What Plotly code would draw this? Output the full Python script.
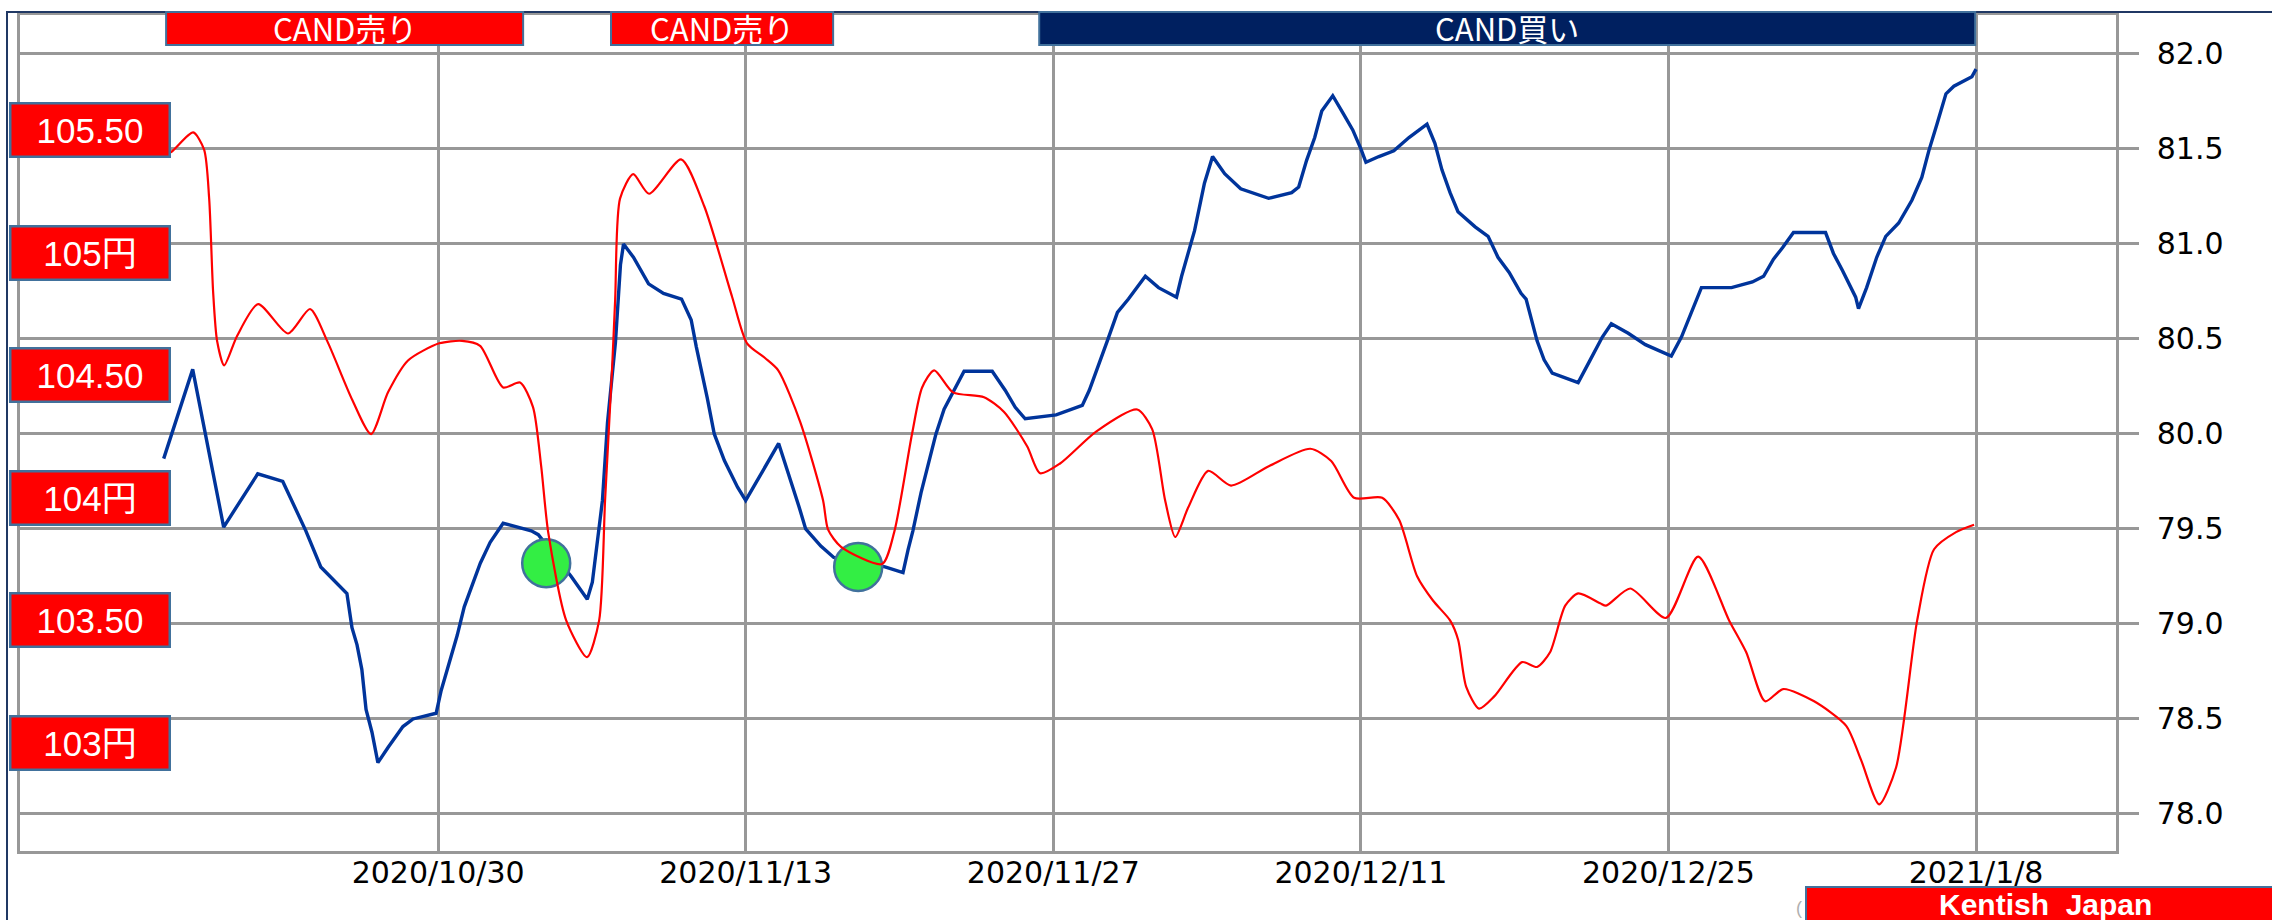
import pandas as pd
import plotly.graph_objects as go

# ---------------- data (day offsets are counted from 2020-10-30) ----------------
BASE_DATE = "2020-10-30"

cad_days = [-12.49, -11.17, -9.76, -8.21, -7.07, -6.02, -5.34, -4.15, -3.92, -3.69,
            -3.47, -3.28, -3.01, -2.74, -2.28, -1.60, -1.14, -0.09, 0.14, 0.50,
            0.87, 1.19, 1.92, 2.37, 2.96, 4.24, 4.56, 6.06, 6.79, 7.02,
            7.25, 7.48, 7.71, 7.89, 8.07, 8.30, 8.44, 8.89, 9.58, 10.26,
            11.08, 11.52, 11.75, 12.25, 12.57, 13.03, 13.63, 14.00, 15.50, 16.42,
            16.73, 17.42, 18.01, 20.34, 21.16, 21.39, 21.61, 21.98, 22.34, 22.66,
            23.03, 23.48, 23.94, 25.22, 25.81, 26.27, 26.72, 28.13, 29.32, 29.64,
            30.00, 30.46, 30.92, 31.42, 32.19, 32.79, 33.61, 33.84, 34.43, 34.88,
            35.25, 35.80, 36.53, 37.80, 38.85, 39.17, 39.53, 39.90, 40.22, 40.72,
            41.18, 41.63, 42.00, 42.23, 42.82, 43.50, 44.19, 45.01, 45.37, 45.69,
            46.06, 46.42, 47.20, 47.79, 48.24, 48.75, 49.29, 49.52, 50.02, 50.34,
            50.71, 51.89, 52.44, 52.99, 53.40, 54.17, 54.95, 56.13, 56.59, 56.91,
            57.27, 57.50, 58.87, 59.82, 60.33, 60.78, 61.19, 61.69, 63.15, 63.51,
            63.92, 64.52, 64.65, 65.02, 65.48, 65.89, 66.48, 67.08, 67.53, 67.85,
            68.22, 68.63, 68.99, 69.81, 70.00]
cad_vals = [79.87, 80.34, 79.51, 79.79, 79.75, 79.49, 79.30, 79.16, 78.98, 78.89,
            78.76, 78.55, 78.43, 78.27, 78.35, 78.46, 78.50, 78.53, 78.65, 78.79,
            78.94, 79.09, 79.32, 79.43, 79.53, 79.49, 79.47, 79.25, 79.13, 79.22,
            79.43, 79.65, 80.06, 80.27, 80.48, 80.89, 81.00, 80.93, 80.79, 80.74,
            80.71, 80.60, 80.46, 80.19, 80.00, 79.86, 79.72, 79.65, 79.95, 79.62,
            79.50, 79.41, 79.35, 79.30, 79.27, 79.39, 79.49, 79.69, 79.86, 80.00,
            80.13, 80.23, 80.33, 80.33, 80.23, 80.14, 80.08, 80.10, 80.15, 80.23,
            80.35, 80.49, 80.64, 80.71, 80.83, 80.77, 80.72, 80.83, 81.07, 81.32,
            81.46, 81.37, 81.29, 81.24, 81.27, 81.30, 81.44, 81.56, 81.70, 81.78,
            81.69, 81.60, 81.50, 81.43, 81.46, 81.49, 81.56, 81.63, 81.53, 81.39,
            81.27, 81.17, 81.09, 81.04, 80.93, 80.85, 80.74, 80.71, 80.49, 80.39,
            80.32, 80.27, 80.39, 80.51, 80.58, 80.53, 80.47, 80.41, 80.51, 80.60,
            80.71, 80.77, 80.77, 80.80, 80.83, 80.92, 80.98, 81.06, 81.06, 80.95,
            80.86, 80.72, 80.66, 80.77, 80.93, 81.04, 81.11, 81.23, 81.35, 81.49,
            81.63, 81.79, 81.83, 81.88, 81.92]

usd_days = [-12.47, -12.15, -11.15, -10.65, -10.42, -10.24, -10.06, -9.74, -9.15, -8.19,
            -6.83, -5.83, -5.05, -3.91, -3.05, -2.28, -1.37, 0.05, 1.09, 1.91,
            2.96, 3.73, 4.32, 4.69, 5.01, 5.83, 6.78, 7.33, 7.60, 7.92,
            8.06, 8.28, 8.88, 9.60, 11.06, 12.11, 13.38, 14.06, 14.88, 15.48,
            16.48, 17.52, 17.75, 18.34, 20.21, 20.76, 21.57, 22.03, 22.58, 23.44,
            24.85, 25.76, 26.81, 27.40, 28.31, 29.95, 31.82, 32.50, 33.09, 33.55,
            34.14, 35.05, 36.09, 37.83, 39.70, 40.65, 41.69, 42.97, 43.74, 44.56,
            45.29, 46.06, 46.43, 46.79, 47.38, 48.07, 49.34, 50.02, 50.61, 51.30,
            51.89, 52.89, 53.16, 54.26, 55.89, 57.35, 58.76, 59.54, 60.40, 61.22,
            62.63, 64.09, 64.77, 65.59, 66.36, 67.32, 68.09, 69.09, 69.91]
usd_vals = [105.40, 105.41, 105.49, 105.42, 105.22, 104.84, 104.64, 104.54, 104.66, 104.79,
            104.67, 104.77, 104.64, 104.40, 104.26, 104.43, 104.56, 104.63, 104.64, 104.62,
            104.45, 104.47, 104.37, 104.13, 103.86, 103.50, 103.35, 103.50, 103.99, 104.53,
            104.81, 105.22, 105.32, 105.24, 105.38, 105.19, 104.82, 104.63, 104.57, 104.52,
            104.31, 103.99, 103.87, 103.80, 103.73, 103.86, 104.26, 104.45, 104.52, 104.43,
            104.41, 104.35, 104.21, 104.10, 104.14, 104.27, 104.36, 104.28, 103.99, 103.84,
            103.96, 104.11, 104.05, 104.13, 104.20, 104.15, 104.00, 104.00, 103.91, 103.68,
            103.58, 103.50, 103.42, 103.23, 103.14, 103.19, 103.33, 103.31, 103.37, 103.56,
            103.61, 103.57, 103.56, 103.63, 103.51, 103.76, 103.50, 103.37, 103.17, 103.22,
            103.17, 103.07, 102.93, 102.75, 102.90, 103.50, 103.79, 103.86, 103.89]

signal_days = [4.92, 19.12]
signal_vals = [79.32, 79.30]

x_tick_days = [0, 14, 28, 42, 56, 70]
x_tick_text = ["2020/10/30", "2020/11/13", "2020/11/27", "2020/12/11", "2020/12/25", "2021/1/8"]
cad_ticks = [78.0, 78.5, 79.0, 79.5, 80.0, 80.5, 81.0, 81.5, 82.0]

usd_levels = [105.5, 105.0, 104.5, 104.0, 103.5, 103.0]
usd_labels = ["105.50", "105円", "104.50", "104円", "103.50", "103円"]

band_labels = ["CAND売り", "CAND売り", "CAND買い"]
band_start_days = [-12.38, 7.87, 27.36]
band_end_days = [3.87, 17.98, 69.96]
band_colors = ["#FF0000", "#FF0000", "#002060"]

# ---------------- helpers ----------------
base = pd.Timestamp(BASE_DATE)


def to_dates(days):
    return [base + pd.Timedelta(days=d) for d in days]


GRID = "#989898"
BOX_EDGE = "#41719C"

fig = go.Figure()

fig.add_trace(go.Scatter(
    x=to_dates(cad_days), y=cad_vals, mode="lines",
    line=dict(color="#00349B", width=3.4), yaxis="y", hoverinfo="skip"))

fig.add_trace(go.Scatter(
    x=to_dates(usd_days), y=usd_vals, mode="lines",
    line=dict(color="#FF0000", width=2.2, shape="spline", smoothing=0.7),
    yaxis="y2", hoverinfo="skip"))

fig.add_trace(go.Scatter(
    x=to_dates(signal_days), y=signal_vals, mode="markers",
    marker=dict(size=48, color="#33EE44", line=dict(color=BOX_EDGE, width=2.5)),
    yaxis="y", hoverinfo="skip"))

shapes = []
annotations = []

# outer frame
shapes.append(dict(type="rect", xref="paper", yref="paper",
                   x0=-0.0062, x1=1.2, y0=-0.3, y1=1.0036,
                   line=dict(color="#203864", width=2), fillcolor="rgba(0,0,0,0)",
                   layer="above"))

# top signal bands
for lab, s, e, c in zip(band_labels, band_start_days, band_end_days, band_colors):
    d0, d1 = to_dates([s, e])
    shapes.append(dict(type="rect", xref="x", yref="paper", x0=d0, x1=d1,
                       y0=0.9641, y1=1.0036, fillcolor=c,
                       line=dict(color=BOX_EDGE, width=2), layer="above"))
    mid = to_dates([(s + e) / 2])[0]
    annotations.append(dict(x=mid, xref="x", y=0.9845, yref="paper",
                            text=lab, showarrow=False, xanchor="center", yanchor="middle",
                            font=dict(family="Noto Sans CJK JP", size=31, color="white")))

# left red level labels (USD/JPY)
for lvl, lab in zip(usd_levels, usd_labels):
    annotations.append(dict(x=-0.0053, xref="paper", xanchor="left",
                            y=lvl, yref="y2", yanchor="middle",
                            text=lab, showarrow=False,
                            width=157, height=51, borderpad=0, borderwidth=2.5,
                            bordercolor=BOX_EDGE, bgcolor="#FF0000", align="center",
                            font=dict(family="Liberation Sans, Noto Sans CJK JP",
                                      size=35, color="white")))

# Kentish Japan badge
shapes.append(dict(type="rect", xref="paper", yref="paper",
                   x0=0.8521, x1=1.09, y0=-0.12, y1=-0.0431,
                   fillcolor="#FF0000", line=dict(color=BOX_EDGE, width=2), layer="above"))
annotations.append(dict(x=0.9666, xref="paper", y=-0.0645, yref="paper",
                        text="<b>Kentish  Japan</b>", showarrow=False,
                        xanchor="center", yanchor="middle",
                        font=dict(family="Liberation Sans", size=30, color="white")))
annotations.append(dict(x=0.8486, xref="paper", y=-0.068, yref="paper",
                        text="(", showarrow=False, xanchor="center", yanchor="middle",
                        font=dict(family="Liberation Sans", size=18, color="#B0B0B0")))

x_range = to_dates([-19.03, 76.37])

fig.update_layout(
    width=2272, height=920, autosize=False,
    margin=dict(l=20, r=156, t=15, b=69, pad=0),
    paper_bgcolor="white", plot_bgcolor="white",
    showlegend=False,
    shapes=shapes, annotations=annotations,
    xaxis=dict(type="date", range=x_range,
               tickmode="array", tickvals=to_dates(x_tick_days), ticktext=x_tick_text,
               showgrid=True, gridcolor=GRID, gridwidth=2.5,
               showline=True, linecolor=GRID, linewidth=2.5, mirror=True,
               ticks="", zeroline=False, ticklabelstandoff=-7,
               tickfont=dict(family="DejaVu Sans", size=30, color="black")),
    yaxis=dict(side="right", range=[77.805, 82.205],
               tickmode="array", tickvals=cad_ticks,
               ticktext=[f"{v:.1f}" for v in cad_ticks],
               showgrid=True, gridcolor=GRID, gridwidth=2.5,
               showline=True, linecolor=GRID, linewidth=2.5, mirror=True,
               ticks="outside", ticklen=20, tickwidth=2.5, tickcolor=GRID,
               ticklabelstandoff=12, zeroline=False,
               tickfont=dict(family="DejaVu Sans", size=30, color="black")),
    yaxis2=dict(overlaying="y", side="left", range=[102.5595, 105.969],
                showgrid=False, showline=False, showticklabels=False,
                ticks="", zeroline=False),
)

fig.write_html("out.html", config={"displayModeBar": False},
               post_script="document.body.style.margin='0';")
